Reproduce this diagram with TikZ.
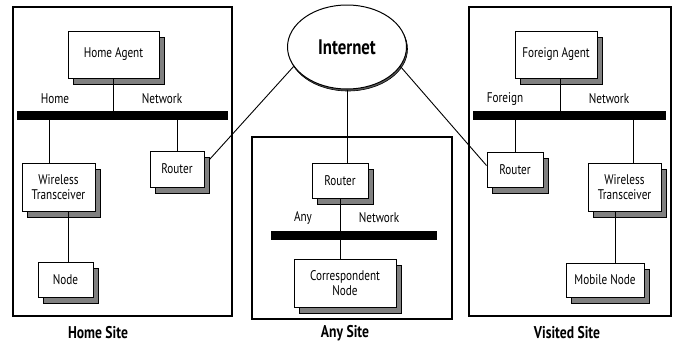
\documentclass[tikz,border=0pt]{standalone}
\usepackage{fontspec}
\setmainfont{PT Sans}[FakeStretch=0.8]
\usetikzlibrary{shapes.geometric,shadows}
\begin{document}
\begin{tikzpicture}[x=1pt,y=-1pt,line width=0.9pt,
  box/.style={draw,fill=white,line width=1pt,align=center,inner sep=0pt,
    font=\fontsize{14}{15}\selectfont,
    drop shadow={shadow xshift=5pt,shadow yshift=-6pt,fill=gray,draw=black,opacity=1}},
  bus/.style={fill=black,inner sep=0pt,minimum height=9pt},
  lbl/.style={font=\fontsize{14}{15}\selectfont},
  site/.style={draw,line width=1.4pt},
  sitename/.style={font=\bfseries\fontsize{17}{19}\selectfont}]
\useasboundingbox (0,0) rectangle (678,343);

\draw[site] (13,7) rectangle (232,316);
\draw[site] (252,137) rectangle (452,319);
\draw[site] (469,7) rectangle (671,316);

\node[box,minimum width=91,minimum height=47] (ha) at (113.5,54.5) {Home Agent};
\node[bus,minimum width=211] (hbus) at (122.5,115.5) {};
\node[lbl] (hlbl) at (55,99) {Home};
\node[lbl] (hnet) at (162,99) {Network};
\node[box,minimum width=73,minimum height=48] (hwt) at (58.5,187) {Wireless\\Transceiver};
\node[box,minimum width=55,minimum height=35] (hnode) at (65.5,279.5) {Node};
\node[box,minimum width=54,minimum height=36] (hrouter) at (177,169) {Router};

\draw (ha) -- (ha |- hbus.north);
\draw ([xshift=-9.5pt]hwt.north) -- ([xshift=-9.5pt]hwt.north |- hbus.south);
\draw ([xshift=9.5pt]hwt.south) -- ([xshift=9.5pt]hwt.south |- hnode.north);
\draw (hrouter) -- (hrouter |- hbus.south);

\node[ellipse,draw,fill=white,line width=1pt,minimum width=119,minimum height=84,inner sep=0pt,
  font=\bfseries\fontsize{21}{24}\selectfont,
  drop shadow={shadow xshift=1pt,shadow yshift=-2pt,fill=gray!70!black,draw=black,line width=0.6pt,opacity=1}] (inet) at (347,47) {Internet};
\node[box,minimum width=56,minimum height=35] (arouter) at (340,180.5) {Router};
\node[bus,minimum width=166] (abus) at (354,235) {};
\node[lbl] (albl) at (303,218) {Any};
\node[lbl] (anet) at (379,218) {Network};
\node[box,minimum width=102,minimum height=48] (acn) at (345,283) {Correspondent\\Node};

\draw (inet.south) -- (inet.south |- arouter.north);
\draw (arouter) -- (arouter |- acn.north);

\node[box,minimum width=82,minimum height=47] (fa) at (556,54.5) {Foreign Agent};
\node[bus,minimum width=193] (fbus) at (569.5,115.5) {};
\node[lbl] (flbl) at (505,99) {Foreign};
\node[lbl] (fnet) at (609,99) {Network};
\node[box,minimum width=56,minimum height=35] (frouter) at (515,169.5) {Router};
\node[box,minimum width=73,minimum height=48] (fwt) at (624.5,187) {Wireless\\Transceiver};
\node[box,minimum width=78,minimum height=34] (mn) at (605,280) {Mobile Node};

\draw ([xshift=4pt]fa.south) -- ([xshift=4pt]fa.south |- fbus.north);
\draw (frouter) -- (frouter |- fbus.south);
\draw ([xshift=8.5pt]fwt.north) -- ([xshift=8.5pt]fwt.north |- fbus.south);
\draw ([xshift=-9.5pt]fwt.south) -- ([xshift=-9.5pt]fwt.south |- mn.north);

\draw (inet.200) -- ([xshift=5pt,yshift=-9pt]hrouter.north east);
\draw (inet.340) -- ([yshift=4pt]frouter.west);

\node[sitename] (hsite) at (98,333) {Home Site};
\node[sitename] (asite) at (345,333) {Any Site};
\node[sitename] (fsite) at (567,333) {Visited Site};
\end{tikzpicture}
\end{document}
